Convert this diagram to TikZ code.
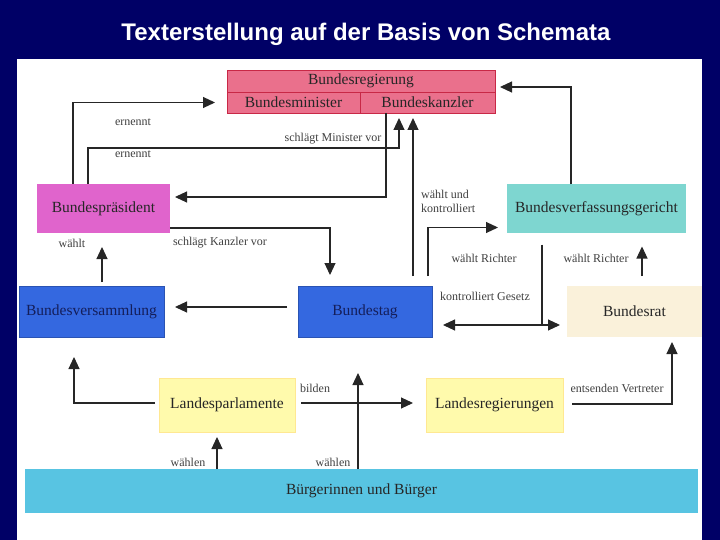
\documentclass[tikz,border=0pt]{standalone}
\usepackage{fontspec}
\setmainfont{Liberation Serif}
\newfontfamily\titlefont{Liberation Sans}
\usepackage{tikz}
\usetikzlibrary{arrows.meta, positioning}

\definecolor{navy}{RGB}{0,0,102}
\definecolor{rosa}{RGB}{234,112,140}
\definecolor{dunkelrot}{RGB}{200,40,70}
\definecolor{lila}{RGB}{224,100,204}
\definecolor{tuerkis}{RGB}{126,214,208}
\definecolor{blau}{RGB}{52,104,224}
\definecolor{blautext}{RGB}{20,30,90}
\definecolor{beige}{RGB}{250,241,218}
\definecolor{gelb}{RGB}{255,250,172}
\definecolor{hellblau}{RGB}{88,196,226}

\begin{document}
\begin{tikzpicture}[x=1pt, y=-1pt,
    box/.style={inner sep=0pt, outer sep=0pt, text=black!85, font=\fontsize{15.5}{18}\selectfont},
    lbl/.style={inner sep=0pt, text=black!75, font=\fontsize{12}{14}\selectfont},
    arr/.style={-{Triangle[length=12pt,width=11pt]}, line width=1.1pt, draw=black!85},
    arrtwo/.style={{Triangle[length=12pt,width=11pt]}-{Triangle[length=12pt,width=11pt]}, line width=1.1pt, draw=black!85},
    conn/.style={line width=1.1pt, draw=black!85}]
            \useasboundingbox (0,0) rectangle (720,540);
            \fill[navy] (0,0) rectangle (720,540);
            \fill[white] (17,59) rectangle (702,540);
            \node[text=white, font=\titlefont\bfseries\fontsize{24}{27}\selectfont] (title) at (366,34) {Texterstellung auf der Basis von Schemata};

            % boxes
            \node[box, fill=blau, draw=blau!80!black, text=blautext, minimum width=134pt, minimum height=51pt] (btag) at (365,311.5) {Bundestag};
            \node[box, fill=blau, draw=blau!80!black, text=blautext, minimum width=145pt, minimum height=51pt] (bvs) [left=134pt of btag] {Bundesversammlung};
            \node[box, fill=beige, minimum width=135pt, minimum height=51pt] (brat) [right=135pt of btag] {Bundesrat};
            \node[box, fill=lila, minimum width=133pt, minimum height=49pt] (bpr) [above=53pt of bvs, xshift=12pt] {Bundespräsident};
            \node[box, fill=tuerkis, minimum width=179pt, minimum height=48pt] (bvg) [above=53.5pt of brat, xshift=-38pt] {Bundesverfassungsgericht};
            \node[box, fill=gelb, draw=gelb!85!orange, minimum width=136pt, minimum height=54pt] (lpa) at (227,405) {Landesparlamente};
            \node[box, fill=gelb, draw=gelb!85!orange, minimum width=137pt, minimum height=54pt] (lreg) [right=131pt of lpa] {Landesregierungen};
            \node[box, fill=hellblau, minimum width=673pt, minimum height=44pt] (bue) at (361.5,491) {Bürgerinnen und Bürger};
            \node[box, fill=rosa, draw=dunkelrot, minimum width=268pt, minimum height=22pt] (breg) at (361,81) {Bundesregierung};
            \node[box, fill=rosa, draw=dunkelrot, minimum width=133pt, minimum height=21pt, anchor=north west] (bmin) at (breg.south west) {Bundesminister};
            \node[box, fill=rosa, draw=dunkelrot, minimum width=135pt, minimum height=21pt] (bkan) [right=0pt of bmin] {Bundeskanzler};

            % connectors
            \draw[arr, shorten >=12pt] ([xshift=-30.5pt]bpr.north) |- (bmin.west);
            \draw[arr, shorten >=5pt] ([xshift=-15.5pt]bpr.north) -- ++(0,-36) -| ([xshift=-28.5pt]bkan.south);
            \draw[arr, shorten >=5pt] ([xshift=-41.5pt]bkan.south) |- ([yshift=11.5pt]bpr.east);
            \draw[arr, shorten >=11pt] ([yshift=-19.5pt]bpr.east) -| ([xshift=-35pt]btag.north);
            \draw[arr, shorten <=4pt, shorten >=14pt] ([xshift=10.5pt]bvs.north) -- ([xshift=-1.5pt]bpr.south);
            \draw[arr, shorten <=11pt, shorten >=11pt] ([yshift=4.5pt]btag.west) -- ([yshift=4.5pt]bvs.east);
            \draw[arr, shorten <=4pt, shorten >=20pt] ([yshift=2pt]lpa.west) -| ([xshift=-17.5pt]bvs.south);
            \draw[arr, shorten <=6pt, shorten >=13pt] ([yshift=2pt]lpa.east) -- ([yshift=2pt]lreg.west);
            \coordinate (wahl1) at ([xshift=-10pt]lpa.south);
            \coordinate (wahl2) at ([xshift=-7pt]btag.south);
            \draw[arr, shorten >=5pt] (wahl1 |- bue.north) -- (wahl1);
            \draw[arr, shorten >=36pt] (wahl2 |- bue.north) -- (wahl2);
            \draw[arr, shorten <=10pt, shorten >=5pt] ([xshift=48pt]btag.north) -- ([xshift=-14.5pt]bkan.south);
            \draw[arr, shorten <=10pt, shorten >=9pt] ([xshift=63pt]btag.north) |- ([yshift=-19pt]bvg.west);
            \draw[arr, shorten <=10pt, shorten >=14pt] ([xshift=7.5pt]brat.north) -- ([xshift=45.5pt]bvg.south);
            \coordinate (kg1) at ([yshift=-13.5pt]btag.east);
            \coordinate (kg2) at ([yshift=-13.5pt]brat.west);
            \coordinate (kgv) at ([xshift=-54.5pt]bvg.south);
            \draw[arrtwo, shorten <=11pt, shorten >=7pt] (kg1) -- (kg2);
            \draw[conn, shorten <=12pt] (kgv) -- (kgv |- kg1);
            \draw[arr, shorten >=5pt] ([xshift=-25.5pt]bvg.north) |- ([yshift=-6pt]breg.east);
            \draw[arr, shorten <=9pt, shorten >=5pt] ([yshift=1pt]lreg.east) -| ([xshift=37.5pt]brat.south);

            % labels
            \node[lbl] (l-ern1) at (133,122) {ernennt};
            \node[lbl] (l-ern2) at (133,154) {ernennt};
            \node[lbl] (l-smv) at (333,139) {schlägt Minister vor};
            \node[lbl] (l-skv) at (220,243) {schlägt Kanzler vor};
            \node[lbl] (l-waehlt) at (72,243) {wählt};
            \node[lbl, align=left, anchor=west] (l-wuk) at (421,201) {wählt und\\kontrolliert};
            \node[lbl] (l-wr1) at (484,258) {wählt Richter};
            \node[lbl] (l-wr2) at (596,258) {wählt Richter};
            \node[lbl] (l-kg) at (485,296) {kontrolliert Gesetz};
            \node[lbl] (l-bilden) at (315,388) {bilden};
            \node[lbl] (l-ev) at (617,388) {entsenden Vertreter};
            \node[lbl] (l-wa1) at (188,462) {wählen};
            \node[lbl] (l-wa2) at (333,462) {wählen};
\end{tikzpicture}
\end{document}
